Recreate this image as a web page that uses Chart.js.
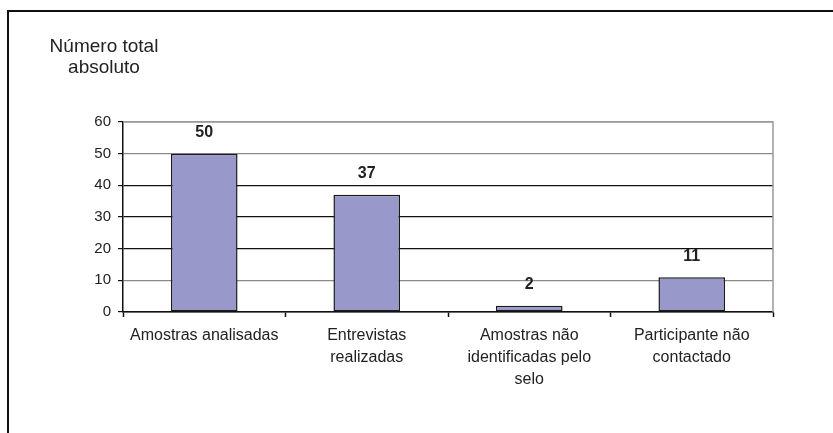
<!DOCTYPE html>
<html lang="pt">
<head>
<meta charset="utf-8">
<title>Número total absoluto</title>
<script src="https://cdn.jsdelivr.net/npm/chart.js@4.4.1/dist/chart.umd.min.js"></script>
<style>
  * { margin: 0; padding: 0; box-sizing: border-box; }
  body { width: 833px; height: 433px; background: #fff; overflow: hidden; }
  .frame {
    position: absolute;
    left: 7px;
    top: 10px;
    width: 826px;
    height: 423px;
    border-top: 2px solid #111;
    border-left: 2px solid #111;
  }
  #chart { position: absolute; left: 0; top: 0; }
</style>
</head>
<body>
<div class="frame"></div>
<canvas id="chart" width="833" height="433"></canvas>
<script>
  const categories = [
    "Amostras analisadas",
    ["Entrevistas", "realizadas"],
    ["Amostras não", "identificadas pelo", "selo"],
    ["Participante não", "contactado"],
  ];
  const values = [50, 37, 2, 11];
  const yTicks = [0, 10, 20, 30, 40, 50, 60];
  const titleLines = ["Número total", "absoluto"];

  const FONT = "'Liberation Sans', Arial, sans-serif";
  const TEXT = "#222";

  // title above the value axis, centred lines
  const titlePlugin = {
    id: "sideTitle",
    afterDraw(chart) {
      const ctx = chart.ctx;
      ctx.save();
      ctx.font = "19px " + FONT;
      ctx.fillStyle = TEXT;
      ctx.textAlign = "center";
      ctx.textBaseline = "alphabetic";
      titleLines.forEach((line, i) => ctx.fillText(line, 104, 52 + i * 21));
      ctx.restore();
    }
  };

  // grey frame round the plot area
  const plotFrame = {
    id: "plotFrame",
    beforeDatasetsDraw(chart) {
      const { ctx, chartArea: a } = chart;
      ctx.save();
      ctx.strokeStyle = "#9a9a9a";
      ctx.lineWidth = 1.5;
      ctx.beginPath();
      ctx.moveTo(a.left, a.top);
      ctx.lineTo(a.right, a.top);
      ctx.lineTo(a.right, a.bottom);
      ctx.stroke();
      ctx.restore();
    }
  };

  // value printed above each bar
  const valueLabels = {
    id: "valueLabels",
    afterDatasetsDraw(chart) {
      const ctx = chart.ctx;
      const meta = chart.getDatasetMeta(0);
      ctx.save();
      ctx.font = "bold 16px " + FONT;
      ctx.fillStyle = TEXT;
      ctx.textAlign = "center";
      ctx.textBaseline = "middle";
      meta.data.forEach((bar, i) => {
        ctx.fillText(String(values[i]), bar.x, bar.y - 21);
      });
      ctx.restore();
    }
  };

  const gridShade = { 60: "#9a9a9a", 50: "#8a8a8a", 10: "#8a8a8a" };

  new Chart(document.getElementById("chart"), {
    type: "bar",
    data: {
      labels: categories,
      datasets: [{
        data: values,
        backgroundColor: "#9898ca",
        borderColor: "#1a1a1a",
        borderWidth: 1.5,
        borderSkipped: false,
        categoryPercentage: 1,
        barPercentage: 0.41,
      }]
    },
    options: {
      responsive: false,
      animation: false,
      layout: { padding: { top: 122, right: 60, bottom: 31, left: 0 } },
      plugins: {
        legend: { display: false },
        tooltip: { enabled: false },
      },
      scales: {
        x: {
          afterFit(scale) { scale.height = 90; },
          border: { color: "#111", width: 1.5 },
          grid: {
            offset: true,
            drawOnChartArea: false,
            drawTicks: true,
            tickLength: 5,
            tickColor: "#111",
            tickWidth: 1.5,
          },
          ticks: {
            color: TEXT,
            padding: 8,
            maxRotation: 0,
            autoSkip: false,
            font: { family: FONT, size: 16, lineHeight: 1.36 },
          },
        },
        y: {
          min: 0,
          max: 60,
          afterFit(scale) { scale.width = 123; },
          afterBuildTicks(scale) { scale.ticks = yTicks.map(v => ({ value: v })); },
          border: { color: "#111", width: 1.5 },
          grid: {
            color: ctx => gridShade[ctx.tick.value] || "#111",
            lineWidth: 1.2,
            tickLength: 5,
            tickColor: "#111",
          },
          ticks: {
            color: TEXT,
            padding: 7,
            font: { family: FONT, size: 15 },
          },
        },
      },
    },
    plugins: [plotFrame, valueLabels, titlePlugin],
  });
</script>
</body>
</html>
